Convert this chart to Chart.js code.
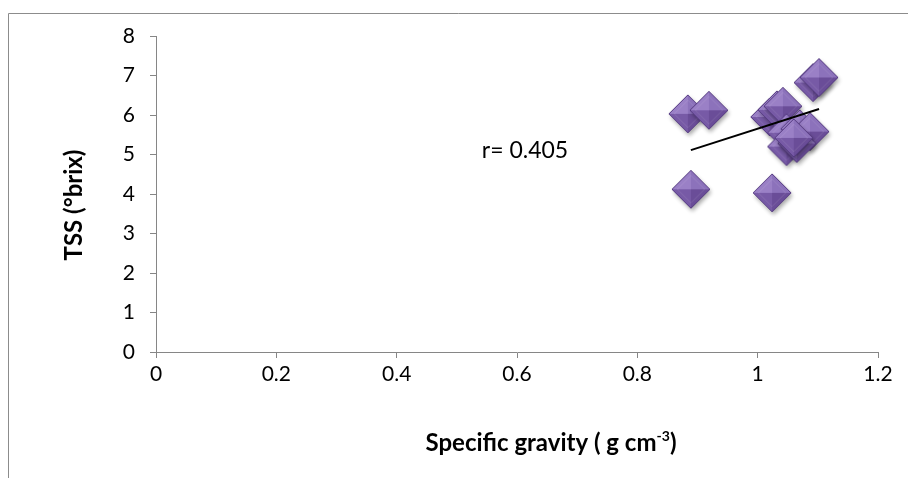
<!DOCTYPE html>
<html>
<head>
<meta charset="utf-8">
<script src="https://cdn.jsdelivr.net/npm/chart.js@4.4.1/dist/chart.umd.min.js"></script>
<style>
  html, body { margin: 0; padding: 0; background: #fff; }
  #wrap { position: relative; width: 908px; height: 478px; }
</style>
</head>
<body>
<div id="wrap"><canvas id="tssChart" width="908" height="478"></canvas></div>
<script>
// values
const gravity = [0.889, 1.024, 0.884, 0.919, 1.020, 1.032, 1.042, 1.048, 1.070, 1.087, 1.048, 1.065, 1.060, 1.092, 1.102];
const tss = [4.12, 4.03, 6.03, 6.12, 5.95, 6.13, 6.22, 5.55, 5.65, 5.58, 5.20, 5.28, 5.42, 6.82, 6.95];

// trend line ends (as drawn in the picture)
const trendGravity = [0.889, 1.102];
const trendTss = [5.11, 6.15];

const xTicks = [0, 0.2, 0.4, 0.6, 0.8, 1, 1.2];
const yTicks = [0, 1, 2, 3, 4, 5, 6, 7, 8];

const rLabel = "r= 0.405";
const xTitle = "Specific gravity ( g cm";
const xTitleSup = "-3";
const xTitleEnd = ")";
const yTitle = "TSS (°brix)";

const axisGrey = "#868686";
const fontName = "Lato, 'Liberation Sans', sans-serif";

Chart.defaults.font.family = fontName;
Chart.defaults.color = "#000";

// bevelled purple diamond like the office marker
function makeDiamond() {
  const r = 19;
  const size = 2 * (r + 7);
  const c = document.createElement("canvas");
  c.width = size;
  c.height = size;
  const g = c.getContext("2d");
  const cx = size / 2, cy = size / 2;

  function path() {
    g.beginPath();
    g.moveTo(cx, cy - r);
    g.lineTo(cx + r, cy);
    g.lineTo(cx, cy + r);
    g.lineTo(cx - r, cy);
    g.closePath();
  }

  g.save();
  g.shadowColor = "rgba(0,0,0,0.35)";
  g.shadowBlur = 4;
  g.shadowOffsetX = 1.5;
  g.shadowOffsetY = 3;
  path();
  g.fillStyle = "#6f529c";
  g.fill();
  g.restore();

  const facets = [
    [[cx, cy - r], [cx - r, cy], "#9a80c6"],
    [[cx, cy - r], [cx + r, cy], "#8c72bb"],
    [[cx - r, cy], [cx, cy + r], "#775aa6"],
    [[cx + r, cy], [cx, cy + r], "#6a4d98"]
  ];
  facets.forEach(f => {
    g.beginPath();
    g.moveTo(f[0][0], f[0][1]);
    g.lineTo(f[1][0], f[1][1]);
    g.lineTo(cx, cy);
    g.closePath();
    g.fillStyle = f[2];
    g.fill();
  });

  // inner bevel rim
  const k = 0.72;
  g.beginPath();
  g.moveTo(cx, cy - r * k);
  g.lineTo(cx + r * k, cy);
  g.lineTo(cx, cy + r * k);
  g.lineTo(cx - r * k, cy);
  g.closePath();
  g.strokeStyle = "rgba(255,255,255,0.12)";
  g.lineWidth = 1;
  g.stroke();

  path();
  g.strokeStyle = "#543a80";
  g.lineWidth = 1;
  g.stroke();
  return c;
}

const diamond = makeDiamond();

const decor = {
  id: "decor",
  beforeDraw(chart) {
    const ctx = chart.ctx;
    ctx.save();
    ctx.strokeStyle = "#8c8c8c";
    ctx.lineWidth = 1;
    ctx.beginPath();
    ctx.moveTo(8.5, 478);
    ctx.lineTo(8.5, 13.5);
    ctx.lineTo(908, 13.5);
    ctx.stroke();
    ctx.restore();
  },
  afterDraw(chart) {
    const ctx = chart.ctx;
    ctx.save();
    ctx.fillStyle = "#000";

    // r label
    ctx.font = "23px " + fontName;
    ctx.textAlign = "center";
    ctx.textBaseline = "middle";
    ctx.fillText(rLabel, 525, 151);

    // x title with superscript
    const big = "bold 24px " + fontName;
    const small = "bold 14px " + fontName;
    ctx.font = big;
    const w1 = ctx.measureText(xTitle).width;
    const w3 = ctx.measureText(xTitleEnd).width;
    ctx.font = small;
    const w2 = ctx.measureText(xTitleSup).width;
    let x = 551 - (w1 + w2 + w3) / 2;
    const y = 443;
    ctx.textAlign = "left";
    ctx.textBaseline = "middle";
    ctx.font = big;
    ctx.fillText(xTitle, x, y);
    x += w1;
    ctx.font = small;
    ctx.fillText(xTitleSup, x, y - 7);
    x += w2;
    ctx.font = big;
    ctx.fillText(xTitleEnd, x, y);

    // y title
    ctx.translate(74, 205);
    ctx.rotate(-Math.PI / 2);
    ctx.textAlign = "center";
    ctx.font = big;
    ctx.fillText(yTitle, 0, 0);
    ctx.restore();
  }
};

new Chart(document.getElementById("tssChart"), {
  type: "scatter",
  data: {
    datasets: [
      {
        type: "line",
        data: trendGravity.map((g, i) => ({ x: g, y: trendTss[i] })),
        borderColor: "#000",
        borderWidth: 2,
        pointRadius: 0,
        fill: false,
        order: 0
      },
      {
        data: gravity.map((g, i) => ({ x: g, y: tss[i] })),
        pointStyle: diamond,
        pointRadius: 19,
        order: 1
      }
    ]
  },
  options: {
    responsive: false,
    animation: false,
    events: [],
    layout: { padding: { left: 0, right: 30, top: 36, bottom: 0 } },
    plugins: {
      legend: { display: false },
      tooltip: { enabled: false }
    },
    scales: {
      x: {
        type: "linear",
        min: 0,
        max: 1.2,
        afterBuildTicks: axis => { axis.ticks = xTicks.map(v => ({ value: v })); },
        afterFit: axis => { axis.height = 126; },
        ticks: {
          font: { size: 21 },
          color: "#000",
          padding: 4,
          callback: v => String(v)
        },
        grid: { drawOnChartArea: false, drawTicks: true, tickLength: 6, color: axisGrey },
        border: { color: axisGrey, width: 1 }
      },
      y: {
        type: "linear",
        min: 0,
        max: 8,
        afterBuildTicks: axis => { axis.ticks = yTicks.map(v => ({ value: v })); },
        afterFit: axis => { axis.width = 156; },
        ticks: {
          font: { size: 21 },
          color: "#000",
          padding: 15,
          callback: v => String(v)
        },
        grid: { drawOnChartArea: false, drawTicks: true, tickLength: 6, color: axisGrey },
        border: { color: axisGrey, width: 1 }
      }
    }
  },
  plugins: [decor]
});
</script>
</body>
</html>
